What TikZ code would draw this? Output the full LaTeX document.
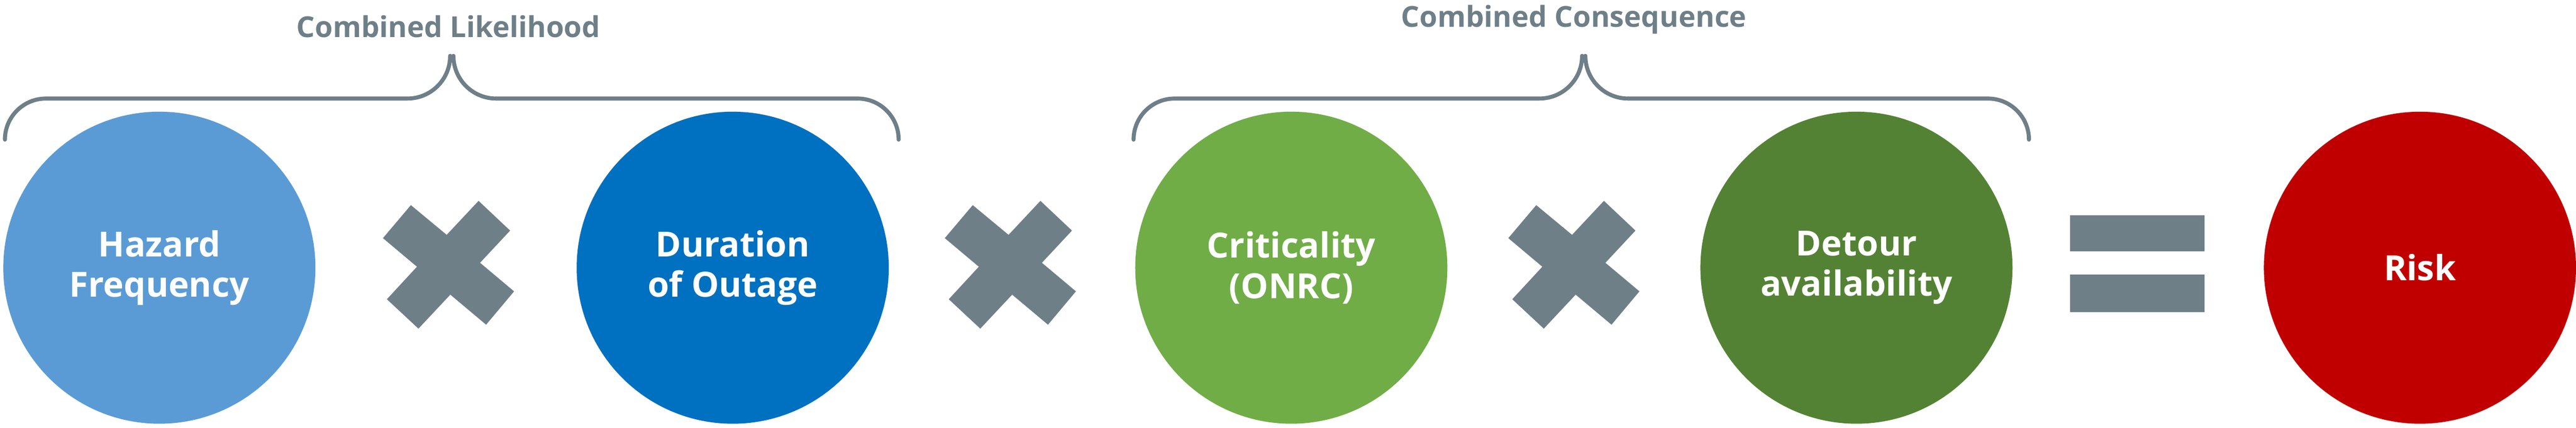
\documentclass[tikz,border=0pt]{standalone}
\usetikzlibrary{calc}
\usepackage{fontspec}
\setmainfont{Open Sans}
\definecolor{gr}{HTML}{6E7F88}
\definecolor{c1}{HTML}{5B9BD5}
\definecolor{c2}{HTML}{0070C0}
\definecolor{c3}{HTML}{70AD47}
\definecolor{c4}{HTML}{548235}
\definecolor{c5}{HTML}{C00000}
\begin{document}
\begin{tikzpicture}[x=0.1cm,y=-0.1cm,
  ball/.style={circle,minimum size=19cm,inner sep=0pt,text=white,align=center,font=\fontsize{60}{70}\selectfont\bfseries},
  brc/.style={draw=gr,line width=7pt,line cap=round},
  lab/.style={text=gr,font=\fontsize{50}{60}\selectfont\bfseries}]
\useasboundingbox (0,0) rectangle (1568,260.4);
\node[ball,fill=c1] (a) at (97,163) {Hazard\\Frequency};
\node[ball,fill=c2] (b) at (446,163) {Duration\\of Outage};
\node[ball,fill=c3] (c) at (786,163) {Criticality\\(ONRC)};
\node[ball,fill=c4] (d) at (1130,163) {Detour\\availability};
\node[ball,fill=c5] (e) at (1473,163) {Risk};
\foreach \x in {273,615,958}{
  \begin{scope}[shift={(\x,161.3)}]
  \fill[gr] (-22.9,-36.4) -- (-39.9,-16.3) -- (-19.2,1.1) -- (-37.5,20.9) -- (-18.3,38.8) -- (1.1,18.1)
    -- (22.9,36.4) -- (39.9,16.1) -- (19.2,-1.3) -- (37.5,-20.9) -- (18.3,-39.0) -- (-1.1,-18.3) -- cycle;
  \end{scope}
}
\fill[gr] (1260,131) rectangle (1342,153);
\fill[gr] (1260,167) rectangle (1342,190);
\draw[brc] (3,85) arc[start angle=180,end angle=270,radius=25] -- (248,60) arc[start angle=90,end angle=0,radius=26] ;
\draw[brc] (302,60) arc[start angle=90,end angle=180,radius=26];
\draw[brc] (302,60) -- (522,60) arc[start angle=270,end angle=360,radius=25];
\node[lab] (l1) at (273,16) {Combined Likelihood};
\draw[brc] (690,85) arc[start angle=180,end angle=270,radius=25] -- (937,60) arc[start angle=90,end angle=0,radius=26];
\draw[brc] (991,60) arc[start angle=90,end angle=180,radius=26];
\draw[brc] (991,60) -- (1210,60) arc[start angle=270,end angle=360,radius=25];
\node[lab] (l2) at (958,12) {Combined Consequence};
\end{tikzpicture}
\end{document}
